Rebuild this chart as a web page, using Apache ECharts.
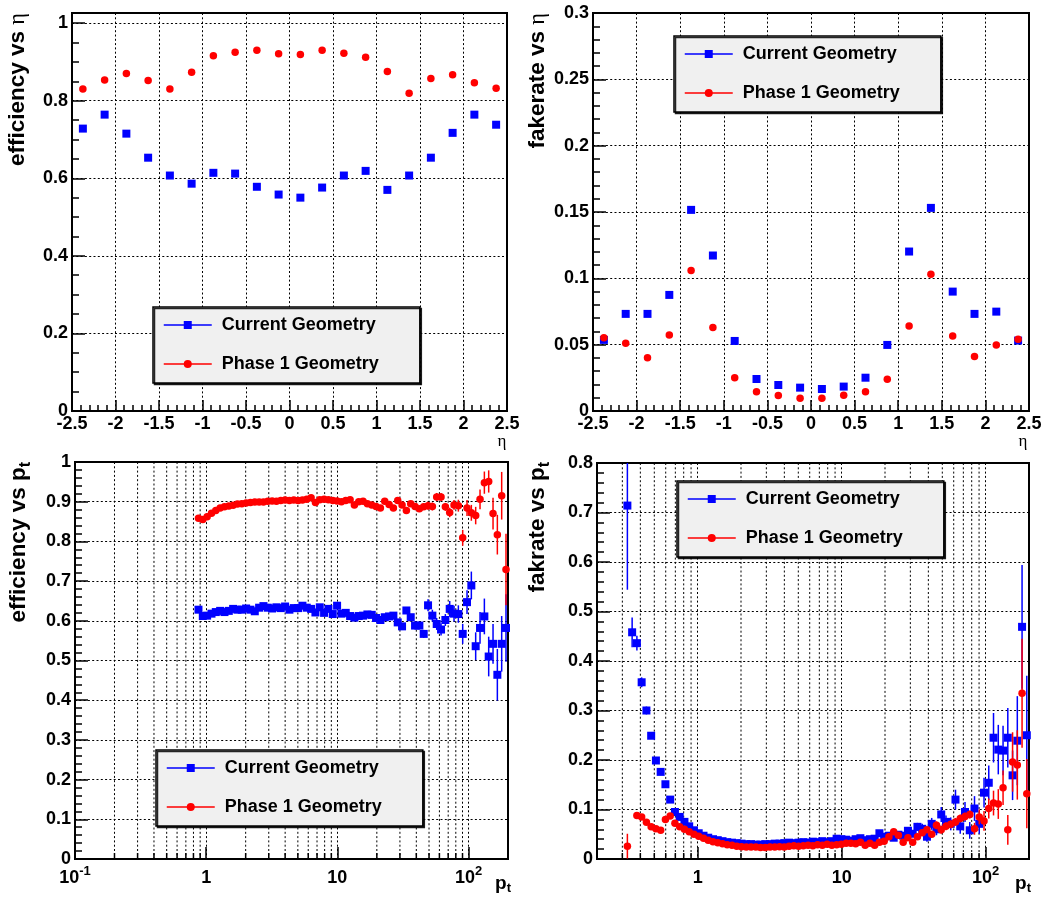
<!DOCTYPE html>
<html>
<head>
<meta charset="utf-8">
<title>efficiency / fakerate</title>
<script src="https://cdn.jsdelivr.net/npm/echarts@6.0.0/dist/echarts.min.js"></script>
<style>
  html, body { margin: 0; padding: 0; background: #fff; }
  #main { width: 1043px; height: 897px; }
</style>
</head>
<body>
<div id="main"></div>
<script>
// ---- data ----
var seriesNames = ['Current Geometry', 'Phase 1 Geometry'];

var etaBins = [-2.375, -2.125, -1.875, -1.625, -1.375, -1.125, -0.875, -0.625, -0.375, -0.125,
               0.125, 0.375, 0.625, 0.875, 1.125, 1.375, 1.625, 1.875, 2.125, 2.375];

var effEtaCurrent = [0.728, 0.764, 0.715, 0.653, 0.607, 0.586, 0.614, 0.612, 0.578, 0.558,
                     0.550, 0.576, 0.607, 0.619, 0.570, 0.607, 0.653, 0.717, 0.764, 0.738];
var effEtaPhase1 = [0.830, 0.853, 0.870, 0.852, 0.830, 0.873, 0.916, 0.925, 0.930, 0.921,
                    0.919, 0.930, 0.922, 0.912, 0.875, 0.819, 0.857, 0.867, 0.846, 0.832];

var fakeEtaCurrent = [0.0536, 0.0732, 0.0732, 0.0875, 0.1516, 0.1172, 0.0528, 0.0241, 0.0196, 0.0176,
                      0.0166, 0.0184, 0.0251, 0.0498, 0.1202, 0.1531, 0.0900, 0.0732, 0.0749, 0.0531];
var fakeEtaPhase1 = [0.0553, 0.0510, 0.0402, 0.0573, 0.1059, 0.0629, 0.0251, 0.0146, 0.0116, 0.0096,
                     0.0096, 0.0118, 0.0146, 0.0239, 0.0641, 0.1031, 0.0566, 0.0410, 0.0498, 0.0541];

// pt bin centres (100 log bins, 0.1 - 200)
var ptBins = [
  0.1039, 0.1121, 0.1210, 0.1305, 0.1408, 0.1520, 0.1640, 0.1769, 0.1909, 0.2060,
  0.2223, 0.2399, 0.2588, 0.2793, 0.3013, 0.3251, 0.3508, 0.3785, 0.4084, 0.4407,
  0.4755, 0.5131, 0.5536, 0.5973, 0.6445, 0.6954, 0.7504, 0.8097, 0.8736, 0.9426,
  1.017, 1.098, 1.184, 1.278, 1.379, 1.488, 1.605, 1.732, 1.869, 2.016,
  2.176, 2.348, 2.533, 2.733, 2.949, 3.182, 3.433, 3.705, 3.997, 4.313,
  4.654, 5.021, 5.418, 5.846, 6.308, 6.806, 7.344, 7.924, 8.550, 9.226,
  9.955, 10.74, 11.59, 12.51, 13.49, 14.56, 15.71, 16.95, 18.29, 19.73,
  21.29, 22.98, 24.79, 26.75, 28.86, 31.14, 33.60, 36.26, 39.12, 42.21,
  45.55, 49.15, 53.03, 57.22, 61.74, 66.61, 71.88, 77.55, 83.68, 90.29,
  97.43, 105.1, 113.4, 122.4, 132.1, 142.5, 153.8, 165.9, 179.0, 193.1
];
// ticks of the log axes between the decades
var ptMinorTicks = [0.2, 0.3, 0.4, 0.5, 0.6, 0.7, 0.8, 0.9, 2, 3, 4, 5, 6, 7, 8, 9,
                    20, 30, 40, 50, 60, 70, 80, 90];

// efficiency vs pt, starting at bin 28
var effPtFirstBin = 28;
var effPtCurrent = [
  0.628, 0.612, 0.613, 0.618, 0.622, 0.625, 0.622, 0.625, 0.630, 0.628,
  0.628, 0.631, 0.628, 0.624, 0.633, 0.637, 0.633, 0.631, 0.634, 0.632,
  0.636, 0.628, 0.632, 0.632, 0.638, 0.633, 0.630, 0.621, 0.634, 0.620,
  0.630, 0.617, 0.638, 0.618, 0.620, 0.612, 0.608, 0.612, 0.613, 0.616,
  0.615, 0.607, 0.602, 0.609, 0.611, 0.613, 0.596, 0.586, 0.626, 0.609,
  0.588, 0.588, 0.567, 0.639, 0.613, 0.592, 0.578, 0.602, 0.630, 0.618,
  0.617, 0.567, 0.647, 0.689, 0.536, 0.582, 0.611, 0.510, 0.542, 0.464,
  0.542, 0.582
];
var effPtCurrentErr = [
  0.004, 0.004, 0.004, 0.004, 0.004, 0.004, 0.004, 0.004, 0.004, 0.004,
  0.004, 0.004, 0.004, 0.004, 0.004, 0.004, 0.004, 0.004, 0.004, 0.004,
  0.004, 0.004, 0.004, 0.004, 0.004, 0.004, 0.004, 0.004, 0.006, 0.006,
  0.006, 0.006, 0.006, 0.006, 0.006, 0.006, 0.006, 0.006, 0.006, 0.006,
  0.006, 0.006, 0.006, 0.008, 0.008, 0.008, 0.008, 0.008, 0.008, 0.008,
  0.010, 0.010, 0.010, 0.015, 0.015, 0.015, 0.015, 0.015, 0.020, 0.020,
  0.022, 0.025, 0.030, 0.035, 0.035, 0.040, 0.045, 0.050, 0.050, 0.065,
  0.070, 0.085
];
var effPtPhase1 = [
  0.858, 0.855, 0.862, 0.871, 0.878, 0.884, 0.887, 0.889, 0.891, 0.894,
  0.895, 0.897, 0.898, 0.899, 0.899, 0.899, 0.901, 0.902, 0.901, 0.903,
  0.904, 0.903, 0.904, 0.903, 0.904, 0.906, 0.910, 0.898, 0.905, 0.906,
  0.905, 0.903, 0.902, 0.900, 0.903, 0.905, 0.892, 0.900, 0.901, 0.895,
  0.892, 0.888, 0.884, 0.901, 0.893, 0.884, 0.903, 0.892, 0.878, 0.895,
  0.888, 0.882, 0.887, 0.890, 0.888, 0.912, 0.912, 0.887, 0.873, 0.892,
  0.890, 0.809, 0.884, 0.872, 0.865, 0.906, 0.948, 0.951, 0.870, 0.817,
  0.915, 0.729
];
var effPtPhase1Err = [
  0.003, 0.003, 0.003, 0.003, 0.003, 0.003, 0.003, 0.003, 0.003, 0.003,
  0.003, 0.003, 0.003, 0.003, 0.003, 0.003, 0.003, 0.003, 0.003, 0.003,
  0.003, 0.003, 0.003, 0.003, 0.003, 0.003, 0.003, 0.003, 0.003, 0.003,
  0.003, 0.003, 0.003, 0.003, 0.003, 0.003, 0.003, 0.003, 0.003, 0.003,
  0.003, 0.003, 0.003, 0.006, 0.006, 0.006, 0.006, 0.006, 0.006, 0.006,
  0.006, 0.006, 0.006, 0.010, 0.010, 0.010, 0.010, 0.010, 0.012, 0.012,
  0.015, 0.020, 0.020, 0.020, 0.022, 0.025, 0.028, 0.028, 0.040, 0.050,
  0.060, 0.090
];

// fakerate vs pt, starting at bin 15
var fakePtFirstBin = 15;
var fakePtCurrent = [
  0.714, 0.458, 0.436, 0.357, 0.300, 0.249, 0.199, 0.176, 0.151, 0.120,
  0.095, 0.085, 0.075, 0.066, 0.058, 0.052, 0.047, 0.043, 0.040, 0.038,
  0.036, 0.034, 0.033, 0.032, 0.031, 0.030, 0.030, 0.029, 0.029, 0.030,
  0.030, 0.031, 0.031, 0.032, 0.033, 0.032, 0.033, 0.034, 0.033, 0.035,
  0.034, 0.036, 0.034, 0.036, 0.041, 0.040, 0.039, 0.037, 0.040, 0.042,
  0.038, 0.040, 0.041, 0.052, 0.045, 0.047, 0.043, 0.049, 0.047, 0.057,
  0.051, 0.065, 0.061, 0.045, 0.071, 0.060, 0.090, 0.075, 0.071, 0.120,
  0.066, 0.095, 0.058, 0.102, 0.071, 0.134, 0.154, 0.245, 0.221, 0.219,
  0.245, 0.169, 0.239, 0.469, 0.250
];
var fakePtCurrentErr = [
  0.170, 0.030, 0.015, 0.010, 0.008, 0.006, 0.006, 0.006, 0.006, 0.006,
  0.003, 0.003, 0.003, 0.003, 0.003, 0.003, 0.003, 0.003, 0.003, 0.003,
  0.003, 0.003, 0.003, 0.003, 0.003, 0.003, 0.003, 0.003, 0.003, 0.003,
  0.003, 0.003, 0.003, 0.003, 0.003, 0.003, 0.003, 0.003, 0.003, 0.003,
  0.003, 0.003, 0.003, 0.003, 0.004, 0.004, 0.004, 0.004, 0.004, 0.004,
  0.004, 0.004, 0.004, 0.004, 0.004, 0.004, 0.006, 0.006, 0.006, 0.006,
  0.006, 0.008, 0.010, 0.010, 0.012, 0.012, 0.015, 0.013, 0.013, 0.020,
  0.015, 0.020, 0.017, 0.025, 0.020, 0.030, 0.035, 0.050, 0.050, 0.050,
  0.060, 0.050, 0.090, 0.125, 0.120
];
var fakePtPhase1 = [
  0.026, null, 0.088, 0.085, 0.074, 0.065, 0.061, 0.058, 0.080, 0.087,
  0.072, 0.065, 0.060, 0.055, 0.050, 0.046, 0.042, 0.038, 0.035, 0.033,
  0.031, 0.029, 0.028, 0.026, 0.025, 0.024, 0.024, 0.024, 0.023, 0.023,
  0.024, 0.024, 0.025, 0.024, 0.026, 0.027, 0.026, 0.027, 0.028, 0.027,
  0.029, 0.028, 0.030, 0.028, 0.029, 0.030, 0.032, 0.032, 0.031, 0.034,
  0.028, 0.032, 0.028, 0.034, 0.036, 0.045, 0.055, 0.048, 0.034, 0.043,
  0.034, 0.045, 0.053, 0.059, 0.050, 0.068, 0.059, 0.066, 0.070, 0.075,
  0.082, 0.086, 0.090, 0.061, 0.085, 0.077, 0.102, 0.113, 0.111, 0.144,
  0.059, 0.196, 0.190, 0.335, 0.132
];
var fakePtPhase1Err = [
  0.025, 0, 0.004, 0.004, 0.004, 0.004, 0.004, 0.004, 0.004, 0.004,
  0.004, 0.004, 0.004, 0.004, 0.004, 0.004, 0.003, 0.003, 0.003, 0.003,
  0.003, 0.003, 0.003, 0.003, 0.003, 0.003, 0.003, 0.003, 0.003, 0.003,
  0.003, 0.003, 0.003, 0.003, 0.003, 0.003, 0.003, 0.003, 0.003, 0.003,
  0.003, 0.003, 0.003, 0.003, 0.003, 0.003, 0.003, 0.003, 0.003, 0.003,
  0.003, 0.003, 0.003, 0.003, 0.003, 0.005, 0.005, 0.005, 0.005, 0.005,
  0.005, 0.005, 0.005, 0.005, 0.005, 0.008, 0.008, 0.008, 0.008, 0.008,
  0.008, 0.008, 0.008, 0.012, 0.015, 0.020, 0.020, 0.025, 0.030, 0.035,
  0.030, 0.060, 0.070, 0.110, 0.070
];

// ---- style ----
var FONT = '"Liberation Sans", Arial, Helvetica, sans-serif';
var BLUE = '#0000ff';
var RED = '#ff0000';

var myChart = echarts.init(document.getElementById('main'), null, {renderer: 'canvas'});

function zipXY(xs, ys) {
  return xs.map(function (x, k) { return [x, ys[k]]; });
}
// pt points (and their error bars) from a first bin and a value list
function ptPoints(first, values) {
  var out = [];
  values.forEach(function (v, k) {
    if (v !== null) out.push([ptBins[first + k], v]);
  });
  return out;
}
function ptErrors(first, values, errs) {
  var out = [];
  values.forEach(function (v, k) {
    if (v !== null) out.push([ptBins[first + k], v, errs[k]]);
  });
  return out;
}

var tickLine = {color: '#000', width: 1.5};
var gridLine = {show: true, lineStyle: {color: '#000', width: 1, type: [2, 2.3]}};
var labelFont = {color: '#000', fontSize: 18, fontWeight: 'bold', fontFamily: FONT};
var noAxisLine = {show: false, onZero: false};

function markers(name, idx, data) {
  var cur = name === seriesNames[0];
  var col = cur ? BLUE : RED;
  return {
    name: name, type: 'line', xAxisIndex: idx, yAxisIndex: idx, data: data,
    symbol: cur ? 'rect' : 'circle', symbolSize: cur ? 8 : 7.5,
    showSymbol: true, showAllSymbol: true,
    color: col, itemStyle: {color: col}, lineStyle: {color: col, opacity: 0},
    z: cur ? 3 : 5, silent: true, emphasis: {disabled: true}
  };
}

function errorBars(idx, data, col, z) {
  return {
    type: 'custom', xAxisIndex: idx, yAxisIndex: idx, data: data, z: z,
    silent: true, clip: true, encode: {x: 0, y: 1},
    renderItem: function (params, api) {
      var x = api.value(0), y = api.value(1), e = api.value(2);
      var lo = api.coord([x, y - e]);
      var hi = api.coord([x, y + e]);
      return {
        type: 'line',
        shape: {x1: lo[0], y1: lo[1], x2: hi[0], y2: hi[1]},
        style: {stroke: col, lineWidth: 1.5}
      };
    }
  };
}

// dotted grid lines + small ticks at 2..9 of each decade
function logMinorGrid(idx, xMin, yMin, yMax) {
  var data = ptMinorTicks.filter(function (v) { return v > xMin; })
                         .map(function (v) { return [v, yMin]; });
  return {
    type: 'custom', xAxisIndex: idx, yAxisIndex: idx, data: data, z: 1,
    silent: true, encode: {x: 0, y: 1},
    renderItem: function (params, api) {
      var v = api.value(0);
      var top = api.coord([v, yMax]);
      var bot = api.coord([v, yMin]);
      return {
        type: 'group',
        children: [
          {type: 'line', shape: {x1: top[0], y1: top[1], x2: bot[0], y2: bot[1]},
           style: {stroke: '#000', lineWidth: 1, lineDash: [2, 2.3]}},
          {type: 'line', shape: {x1: bot[0], y1: bot[1], x2: bot[0], y2: bot[1] - 6},
           style: {stroke: '#000', lineWidth: 1.5}}
        ]
      };
    }
  };
}

function etaAxis(idx) {
  return {
    type: 'value', gridIndex: idx, min: -2.5, max: 2.5, interval: 0.5,
    axisLine: noAxisLine,
    axisTick: {inside: true, length: 11, lineStyle: tickLine},
    minorTick: {show: true, splitNumber: 5, length: 6, lineStyle: tickLine},
    axisLabel: Object.assign({margin: 4}, labelFont),
    splitLine: gridLine
  };
}

function decadeLabel(v) {
  var p = Math.log(v) / Math.LN10;
  if (Math.abs(p - Math.round(p)) > 1e-6) return '';
  p = Math.round(p);
  if (p === 0) return '{b|1}';
  if (p === 1) return '{b|10}';
  return '{b|10}{s|' + p + '}';
}

function ptAxis(idx, min) {
  return {
    type: 'log', logBase: 10, gridIndex: idx, min: min, max: 200,
    axisLine: noAxisLine,
    axisTick: {inside: true, length: 12, lineStyle: tickLine},
    axisLabel: {
      margin: 6, formatter: decadeLabel,
      rich: {
        b: {color: '#000', fontSize: 18, fontWeight: 'bold', fontFamily: FONT, lineHeight: 26},
        s: {color: '#000', fontSize: 13, fontWeight: 'bold', fontFamily: FONT, lineHeight: 13,
            verticalAlign: 'top'}
      }
    },
    splitLine: gridLine
  };
}

function valueAxis(idx, max, interval, minor) {
  return {
    type: 'value', gridIndex: idx, min: 0, max: max, interval: interval,
    axisLine: noAxisLine,
    axisTick: {inside: true, length: 13, lineStyle: tickLine},
    minorTick: {show: minor > 0, splitNumber: minor || 5, length: 7, lineStyle: tickLine},
    axisLabel: Object.assign({margin: 4}, labelFont),
    splitLine: gridLine
  };
}

function legendBox(left, top) {
  return {
    left: left, top: top, orient: 'vertical', selectedMode: false,
    data: seriesNames,
    itemWidth: 48, itemHeight: 10, itemGap: 21,
    padding: [9, 41, 10, 10],
    backgroundColor: '#f0f0f0', borderColor: '#000', borderWidth: 1.5,
    shadowColor: 'rgba(0,0,0,0.85)', shadowOffsetX: 1.5, shadowOffsetY: 1.5, shadowBlur: 0.1,
    textStyle: {color: '#000', fontSize: 18, fontWeight: 'bold', fontFamily: FONT,
                lineHeight: 18, padding: [0, 0, 0, 5]},
    lineStyle: {width: 1.5, opacity: 1},
    itemStyle: {opacity: 1}
  };
}

// rotated y-axis titles and the small x-axis titles
var titleRich = {
  b: {fill: '#000', fontSize: 22.5, fontWeight: 'bold', fontFamily: FONT, lineHeight: 30},
  g: {fill: '#000', fontSize: 22.5, fontWeight: 'normal', fontFamily: '"Liberation Serif", serif', lineHeight: 30},
  t: {fill: '#000', fontSize: 16, fontWeight: 'bold', fontFamily: FONT, lineHeight: 16, verticalAlign: 'bottom'}
};
function yTitle(x, y, text) {
  return {
    type: 'text', x: x, y: y, rotation: Math.PI / 2, silent: true,
    style: {text: text, rich: titleRich, align: 'right', textAlign: 'right',
            verticalAlign: 'middle', textVerticalAlign: 'middle'}
  };
}
var xTitleRich = {
  g: {fill: '#000', fontSize: 17, fontFamily: '"Liberation Serif", serif', lineHeight: 20},
  b: {fill: '#000', fontSize: 19, fontWeight: 'bold', fontFamily: FONT, lineHeight: 22},
  t: {fill: '#000', fontSize: 13, fontWeight: 'bold', fontFamily: FONT, lineHeight: 13, verticalAlign: 'bottom'}
};
function xTitle(x, y, text) {
  return {
    type: 'text', x: x, y: y, silent: true,
    style: {text: text, rich: xTitleRich, align: 'center', textAlign: 'center',
            verticalAlign: 'middle', textVerticalAlign: 'middle'}
  };
}

var effEtaYAxis = valueAxis(0, 1.026, 0.2, 0);
effEtaYAxis.axisLabel.formatter = function (v) {
  var k = v / 0.2;
  return Math.abs(k - Math.round(k)) < 1e-6 ? String(+v.toFixed(1)) : '';
};

var option = {
  animation: false,
  backgroundColor: '#fff',
  textStyle: {fontFamily: FONT},
  grid: [
    {left: 72, top: 13, width: 435, height: 398},
    {left: 593, top: 13, width: 436, height: 398},
    {left: 75, top: 462, width: 433, height: 397},
    {left: 597, top: 463, width: 432, height: 396},
    // same box as the first one, only for the minor y ticks
    {left: 72, top: 13, width: 435, height: 398, show: false}
  ].map(function (g) {
    return Object.assign({show: true, borderColor: '#000', borderWidth: 2,
                          containLabel: false, outerBoundsMode: 'none'}, g);
  }),
  xAxis: [
    etaAxis(0),
    etaAxis(1),
    ptAxis(2, 0.1),
    ptAxis(3, 0.2),
    {type: 'value', gridIndex: 4, min: -2.5, max: 2.5, show: false}
  ],
  yAxis: [
    effEtaYAxis,
    valueAxis(1, 0.3, 0.05, 5),
    valueAxis(2, 1, 0.1, 5),
    valueAxis(3, 0.8, 0.1, 5),
    {type: 'value', gridIndex: 4, min: 0, max: 1.026, interval: 0.05,
     axisLine: noAxisLine, axisLabel: {show: false}, splitLine: {show: false},
     axisTick: {inside: true, length: 7, lineStyle: tickLine}}
  ],
  legend: [
    legendBox(153, 307),
    legendBox(674, 36),
    legendBox(156, 750),
    legendBox(677, 481)
  ],
  graphic: [
    yTitle(18, 13, '{b|efficiency vs }{g|η}'),
    yTitle(538, 13, '{b|fakerate vs }{g|η}'),
    yTitle(19, 462, '{b|efficiency vs p}{t|t}'),
    yTitle(538, 462, '{b|fakrate vs p}{t|t}'),
    xTitle(502, 442, '{g|η}'),
    xTitle(1023, 442, '{g|η}'),
    xTitle(503, 884, '{b|p}{t|t}'),
    xTitle(1023, 884, '{b|p}{t|t}')
  ],
  series: [
    markers(seriesNames[0], 0, zipXY(etaBins, effEtaCurrent)),
    markers(seriesNames[1], 0, zipXY(etaBins, effEtaPhase1)),

    markers(seriesNames[0], 1, zipXY(etaBins, fakeEtaCurrent)),
    markers(seriesNames[1], 1, zipXY(etaBins, fakeEtaPhase1)),

    logMinorGrid(2, 0.1, 0, 1),
    errorBars(2, ptErrors(effPtFirstBin, effPtCurrent, effPtCurrentErr), BLUE, 2),
    markers(seriesNames[0], 2, ptPoints(effPtFirstBin, effPtCurrent)),
    errorBars(2, ptErrors(effPtFirstBin, effPtPhase1, effPtPhase1Err), RED, 4),
    markers(seriesNames[1], 2, ptPoints(effPtFirstBin, effPtPhase1)),

    logMinorGrid(3, 0.2, 0, 0.8),
    errorBars(3, ptErrors(fakePtFirstBin, fakePtCurrent, fakePtCurrentErr), BLUE, 2),
    markers(seriesNames[0], 3, ptPoints(fakePtFirstBin, fakePtCurrent)),
    errorBars(3, ptErrors(fakePtFirstBin, fakePtPhase1, fakePtPhase1Err), RED, 4),
    markers(seriesNames[1], 3, ptPoints(fakePtFirstBin, fakePtPhase1))
  ]
};

option && myChart.setOption(option);
</script>
</body>
</html>
